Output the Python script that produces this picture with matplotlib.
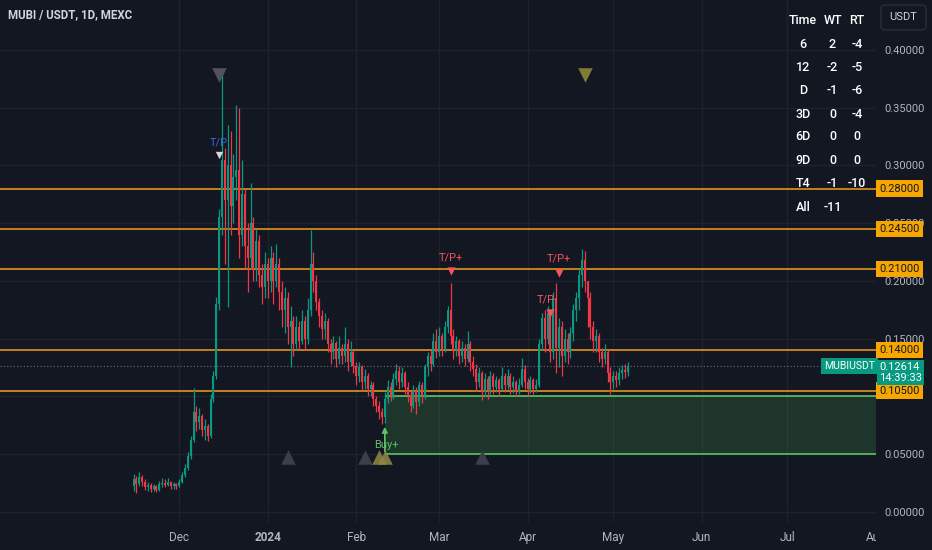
import numpy as np
import pandas as pd
import matplotlib
matplotlib.use('Agg')
import matplotlib.pyplot as plt
import matplotlib.dates as mdates
from matplotlib.transforms import blended_transform_factory
from matplotlib.patches import Rectangle, FancyBboxPatch

plt.rcParams['font.family'] = ['Roboto', 'DejaVu Sans']

# ---------------- data ----------------
start_date = '2023-11-15'
first_open = 0.022
closes = [0.028, 0.024, 0.030, 0.026, 0.021, 0.023, 0.020, 0.022, 0.019, 0.024,
          0.025, 0.023, 0.026, 0.022, 0.024, 0.022, 0.026, 0.032, 0.038, 0.048,
          0.062, 0.086, 0.078, 0.083, 0.071, 0.074, 0.066, 0.098, 0.118, 0.180,
          0.255, 0.305, 0.270, 0.300, 0.265, 0.290, 0.296, 0.240, 0.275, 0.230,
          0.220, 0.250, 0.210, 0.235, 0.205, 0.195, 0.215, 0.200, 0.220, 0.200,
          0.215, 0.190, 0.175, 0.185, 0.160, 0.165, 0.145, 0.160, 0.148, 0.165,
          0.150, 0.175, 0.215, 0.200, 0.182, 0.170, 0.158, 0.165, 0.145, 0.138,
          0.146, 0.132, 0.142, 0.135, 0.145, 0.130, 0.138, 0.126, 0.118, 0.125,
          0.112, 0.118, 0.106, 0.110, 0.098, 0.092, 0.086, 0.082, 0.098, 0.108,
          0.100, 0.115, 0.122, 0.112, 0.120, 0.108, 0.100, 0.092, 0.105, 0.095,
          0.110, 0.100, 0.125, 0.135, 0.128, 0.148, 0.138, 0.152, 0.140, 0.160,
          0.175, 0.152, 0.140, 0.148, 0.135, 0.142, 0.132, 0.145, 0.130, 0.124,
          0.112, 0.120, 0.104, 0.115, 0.105, 0.118, 0.108, 0.114, 0.106, 0.118,
          0.110, 0.118, 0.108, 0.112, 0.104, 0.110, 0.124, 0.112, 0.106, 0.114,
          0.106, 0.110, 0.145, 0.168, 0.150, 0.172, 0.138, 0.185, 0.142, 0.160,
          0.135, 0.150, 0.138, 0.155, 0.175, 0.185, 0.205, 0.218, 0.200, 0.185,
          0.160, 0.148, 0.152, 0.138, 0.132, 0.138, 0.120, 0.112, 0.118, 0.114,
          0.120, 0.123, 0.121, 0.12614]
highs = [0.033, 0.031, 0.034, 0.032, 0.028, 0.026, 0.025, 0.024, 0.023, 0.027,
         0.029, 0.028, 0.029, 0.027, 0.026, 0.025, 0.028, 0.034, 0.041, 0.052,
         0.066, 0.107, 0.092, 0.090, 0.085, 0.080, 0.076, 0.102, 0.122, 0.186,
         0.262, 0.383, 0.315, 0.335, 0.330, 0.310, 0.352, 0.350, 0.305, 0.280,
         0.250, 0.285, 0.255, 0.245, 0.240, 0.215, 0.225, 0.220, 0.230, 0.225,
         0.232, 0.220, 0.200, 0.195, 0.190, 0.178, 0.170, 0.170, 0.165, 0.175,
         0.170, 0.185, 0.244, 0.225, 0.205, 0.185, 0.175, 0.172, 0.168, 0.150,
         0.152, 0.148, 0.152, 0.145, 0.160, 0.150, 0.148, 0.140, 0.130, 0.130,
         0.127, 0.124, 0.120, 0.113, 0.112, 0.100, 0.096, 0.090, 0.104, 0.114,
         0.112, 0.120, 0.128, 0.126, 0.125, 0.122, 0.112, 0.105, 0.110, 0.108,
         0.113, 0.112, 0.128, 0.138, 0.140, 0.155, 0.158, 0.160, 0.155, 0.165,
         0.178, 0.198, 0.158, 0.152, 0.150, 0.148, 0.145, 0.157, 0.148, 0.135,
         0.128, 0.125, 0.122, 0.120, 0.118, 0.122, 0.120, 0.118, 0.116, 0.125,
         0.120, 0.124, 0.120, 0.118, 0.114, 0.116, 0.133, 0.127, 0.116, 0.118,
         0.116, 0.115, 0.150, 0.172, 0.175, 0.178, 0.175, 0.190, 0.198, 0.168,
         0.165, 0.158, 0.155, 0.160, 0.180, 0.190, 0.210, 0.228, 0.226, 0.200,
         0.190, 0.165, 0.158, 0.155, 0.142, 0.145, 0.140, 0.125, 0.122, 0.122,
         0.125, 0.127, 0.128, 0.130]
lows = [0.018, 0.016, 0.022, 0.022, 0.019, 0.018, 0.017, 0.018, 0.017, 0.018,
        0.021, 0.021, 0.022, 0.020, 0.020, 0.020, 0.021, 0.025, 0.030, 0.036,
        0.046, 0.060, 0.070, 0.072, 0.066, 0.062, 0.061, 0.064, 0.095, 0.115,
        0.175, 0.240, 0.215, 0.177, 0.240, 0.250, 0.270, 0.220, 0.230, 0.210,
        0.190, 0.210, 0.200, 0.200, 0.195, 0.180, 0.185, 0.185, 0.190, 0.180,
        0.195, 0.175, 0.160, 0.155, 0.145, 0.125, 0.135, 0.140, 0.140, 0.145,
        0.140, 0.145, 0.170, 0.190, 0.175, 0.160, 0.150, 0.150, 0.138, 0.128,
        0.132, 0.125, 0.128, 0.128, 0.130, 0.122, 0.126, 0.120, 0.110, 0.112,
        0.105, 0.106, 0.100, 0.100, 0.092, 0.086, 0.080, 0.076, 0.077, 0.094,
        0.096, 0.098, 0.110, 0.106, 0.108, 0.102, 0.095, 0.086, 0.090, 0.085,
        0.092, 0.094, 0.098, 0.118, 0.122, 0.126, 0.133, 0.135, 0.135, 0.138,
        0.155, 0.145, 0.132, 0.135, 0.128, 0.130, 0.126, 0.130, 0.122, 0.118,
        0.105, 0.108, 0.097, 0.100, 0.098, 0.102, 0.102, 0.104, 0.100, 0.105,
        0.104, 0.106, 0.102, 0.103, 0.100, 0.102, 0.108, 0.106, 0.100, 0.103,
        0.102, 0.104, 0.108, 0.140, 0.138, 0.145, 0.130, 0.132, 0.120, 0.125,
        0.118, 0.130, 0.128, 0.133, 0.148, 0.165, 0.175, 0.195, 0.190, 0.160,
        0.150, 0.138, 0.138, 0.130, 0.125, 0.128, 0.112, 0.102, 0.106, 0.108,
        0.110, 0.115, 0.116, 0.118]

levels = [0.28, 0.245, 0.21, 0.14, 0.105]
zone_low, zone_high = 0.05, 0.10
zone_start = '2024-02-11'
last_price = 0.12614
countdown = '14:39:33'
symbol = 'MUBIUSDT'
title = 'MUBI / USDT, 1D, MEXC'

month_ticks = ['2023-12-01', '2024-01-01', '2024-02-01', '2024-03-01', '2024-04-01',
               '2024-05-01', '2024-06-01', '2024-07-01', '2024-08-01']
month_labels = ['Dec', '2024', 'Feb', 'Mar', 'Apr', 'May', 'Jun', 'Jul', 'Aug']
grid_prices = [0.0, 0.05, 0.10, 0.15, 0.20, 0.25, 0.30, 0.35, 0.40]
# labels that are visible on the price scale (0.10 is fully hidden by the 0.105 tag)
price_labels = ['0.00000', '0.05000', '', '0.15000', '0.20000', '0.25000',
                '0.30000', '0.35000', '0.40000']

top_gray_dates = ['2023-12-15']
top_olive_dates = ['2024-04-21']
bottom_gray_dates = ['2024-01-08', '2024-02-04', '2024-03-16']
bottom_olive_dates = ['2024-02-09', '2024-02-11']
tp_dates, tp_prices = ['2023-12-15'], [0.309]
tpplus_dates, tpplus_prices = ['2024-03-05', '2024-04-12'], [0.2085, 0.207]
tpminus_dates, tpminus_prices = ['2024-04-09'], [0.172]
buy_date = '2024-02-11'

table_header = ['Time', 'WT', 'RT']
table_rows = [['6', '2', '-4'], ['12', '-2', '-5'], ['D', '-1', '-6'], ['3D', '0', '-4'],
              ['6D', '0', '0'], ['9D', '0', '0'], ['T4', '-1', '-10'], ['All', '-11', '']]

# ---------------- style ----------------
BG = '#131722'
UP = '#089981'
DN = '#f23645'
ORANGE = '#f2a01e'
W, H = 932, 550
PLOT_R, PLOT_B = 876, 522

fig = plt.figure(figsize=(W / 100, H / 100), dpi=100)
fig.patch.set_facecolor(BG)
ax = fig.add_axes([0, (H - PLOT_B) / H, PLOT_R / W, PLOT_B / H])
ax.set_facecolor(BG)
for s in ax.spines.values():
    s.set_visible(False)

dates = pd.date_range(start_date, periods=len(closes), freq='D')
xd = mdates.date2num(dates)
c = np.array(closes)
h = np.array(highs)
l = np.array(lows)
o = np.array([first_open] + closes[:-1])
up = c >= o
cols = np.where(up, UP, DN)

# scales
dec1 = mdates.date2num(pd.Timestamp('2023-12-01'))
ppd = 2.868
ax.set_xlim(dec1 - 180 / ppd, dec1 + (PLOT_R - 180) / ppd)
ax.set_ylim(-0.00893, 0.44341)

ax.set_xticks(mdates.date2num(pd.to_datetime(month_ticks)))
ax.set_xticklabels(month_labels)
ax.set_yticks(grid_prices)
ax.set_yticklabels(price_labels)
ax.yaxis.tick_right()
ax.tick_params(axis='y', length=0, pad=6, labelsize=8, labelcolor='#b2b5be')
ax.tick_params(axis='x', length=0, pad=6.5, labelsize=8.5, labelcolor='#b2b5be')
for lab in ax.get_xticklabels():
    if lab.get_text() == '2024':
        lab.set_fontweight('bold')
ax.grid(True, color='#1e222d', lw=1)
ax.set_axisbelow(True)

# zone
zs = mdates.date2num(pd.Timestamp(zone_start))
xr = ax.get_xlim()[1]
ax.add_patch(Rectangle((zs, zone_low), xr - zs + 5, zone_high - zone_low,
                       fc='#4caf50', alpha=0.2, ec='none', zorder=1))
ax.hlines([zone_low, zone_high], zs, xr + 5, color='#5cc264', lw=1.2, zorder=2)

# levels
for lv in levels:
    ax.axhline(lv, color=ORANGE, lw=1.1, zorder=2)
ax.axhline(last_price, color='#6b6e78', lw=0.8, ls=(0, (1, 2)), zorder=2)

# candles
ax.vlines(xd, l, h, colors=cols, lw=0.9, zorder=3)
body = np.maximum(np.abs(c - o), 0.0012)
ax.bar(xd, body, bottom=np.minimum(o, c), width=0.7, color=cols, lw=0, zorder=4)

# signal markers (fixed rows at top / bottom)
bt = blended_transform_factory(ax.transData, ax.transAxes)
def dn(ds):
    return mdates.date2num(pd.to_datetime(ds))
ax.scatter(dn(top_gray_dates), [1 - 75 / PLOT_B] * len(top_gray_dates), marker='v', s=110,
           color='#50535d', transform=bt, zorder=6, lw=0)
ax.scatter(dn(top_olive_dates), [1 - 75 / PLOT_B] * len(top_olive_dates), marker='v', s=110,
           color='#7f7b38', transform=bt, zorder=6, lw=0)
ax.scatter(dn(bottom_gray_dates), [1 - 457 / PLOT_B] * len(bottom_gray_dates), marker='^', s=110,
           color='#3c3f49', transform=bt, zorder=6, lw=0)
ax.scatter(dn(bottom_olive_dates), [1 - 457 / PLOT_B] * len(bottom_olive_dates), marker='^', s=110,
           color='#8f8a45', alpha=0.85, transform=bt, zorder=6, lw=0)

# T/P annotations
ax.scatter(dn(tp_dates), tp_prices, marker='v', s=28, color='#d8d8d8', zorder=7, lw=0)
for d, p in zip(dn(tp_dates), tp_prices):
    ax.text(d, p + 0.011, 'T/P', color='#3a66d6', fontsize=8, ha='center', va='center', zorder=7)
ax.scatter(dn(tpplus_dates), tpplus_prices, marker='v', s=36, color='#f7525f', zorder=7, lw=0)
for d, p in zip(dn(tpplus_dates), tpplus_prices):
    ax.text(d, p + 0.012, 'T/P+', color='#f7525f', fontsize=8, ha='center', va='center', zorder=7)
ax.scatter(dn(tpminus_dates), tpminus_prices, marker='v', s=36, color='#f7525f', zorder=7, lw=0)
for d, p in zip(dn(tpminus_dates), tpminus_prices):
    ax.text(d - 1, p + 0.012, 'T/P-', color='#f7525f', fontsize=8, ha='center', va='center', zorder=7)

bd = dn([buy_date])[0]
ax.annotate('', xy=(bd, 0.076), xytext=(bd, zone_low),
            arrowprops=dict(arrowstyle='-|>', color='#5cc264', lw=1.2, mutation_scale=8), zorder=7)
ax.text(bd + 0.5, 0.058, 'Buy+', color='#5cc264', fontsize=8, ha='center', va='center', zorder=7)

# right axis labels
ybt = blended_transform_factory(ax.transAxes, ax.transData)
for lv in levels:
    ax.text(1.0035, lv, f'{lv:.5f}', transform=ybt, ha='left', va='center', fontsize=8,
            color='#131722', clip_on=False, zorder=10,
            bbox=dict(boxstyle='square,pad=0.28', fc='#f7a600', ec='none'))
ax.text(0.9985, last_price, symbol, transform=ybt, ha='right', va='center', fontsize=7.5,
        color='white', clip_on=False, zorder=10,
        bbox=dict(boxstyle='square,pad=0.3', fc=UP, ec='none'))
ax.text(1.0035, last_price - 0.0055, f'{last_price:.5f}\n{countdown}', transform=ybt, ha='left',
        va='center', fontsize=8, color='white', linespacing=1.1, clip_on=False, zorder=11,
        bbox=dict(boxstyle='square,pad=0.2', fc=UP, ec='none'))

# cover bottom-right corner (price-axis column)
fig.add_artist(Rectangle((PLOT_R / W, 0), (W - PLOT_R) / W, (H - PLOT_B) / H,
                         transform=fig.transFigure, fc=BG, ec='none', zorder=5))

# title
fig.text(8 / W, 1 - 15 / H, title, ha='left', va='center', fontsize=8.3, color='#d1d4dc',
         fontweight='bold')

# USDT button
fig.add_artist(FancyBboxPatch((881 / W, 1 - 30 / H), 45 / W, 25 / H,
                              boxstyle='round,pad=0,rounding_size=0.006',
                              transform=fig.transFigure, fc=BG, ec='#2a2e39', lw=1, zorder=6))
fig.text(903.5 / W, 1 - 17 / H, 'USDT', ha='center', va='center', fontsize=8, color='#d1d4dc',
         zorder=7)

# table
col_x = [803, 832.5, 857]
row_y = [20.7, 44.3, 67.7, 90.7, 114.3, 137, 160.7, 183.7, 207.7]
for j, t in enumerate(table_header):
    fig.text(col_x[j] / W, 1 - row_y[0] / H, t, ha='center', va='center', fontsize=9,
             color='white', fontweight='medium')
for i, row in enumerate(table_rows):
    for j, t in enumerate(row):
        if t:
            fig.text(col_x[j] / W, 1 - row_y[i + 1] / H, t, ha='center', va='center',
                     fontsize=9, color='white', fontweight='medium')

fig.savefig('out.png', dpi=100, facecolor=BG)
